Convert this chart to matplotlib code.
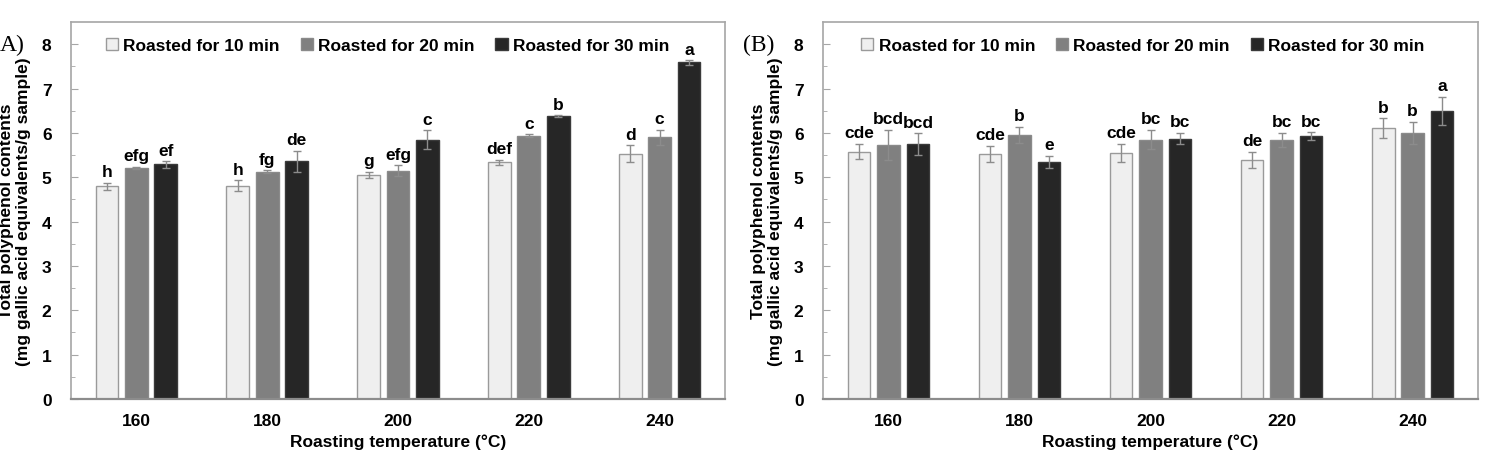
import matplotlib
matplotlib.use('Agg')
import matplotlib.pyplot as plt
import numpy as np

temps = ['160', '180', '200', '220', '240']
series = ['Roasted for 10 min', 'Roasted for 20 min', 'Roasted for 30 min']

# panel A
a_10 = [4.80, 4.81, 5.06, 5.34, 5.53]
a_20 = [5.21, 5.13, 5.15, 5.94, 5.90]
a_30 = [5.29, 5.36, 5.85, 6.38, 7.59]
a_10_err = [0.08, 0.12, 0.07, 0.06, 0.19]
a_20_err = [0.03, 0.03, 0.12, 0.03, 0.17]
a_30_err = [0.07, 0.24, 0.21, 0.02, 0.05]
a_10_let = ['h', 'h', 'g', 'def', 'd']
a_20_let = ['efg', 'fg', 'efg', 'c', 'c']
a_30_let = ['ef', 'de', 'c', 'b', 'a']

# panel B
b_10 = [5.58, 5.53, 5.55, 5.39, 6.11]
b_20 = [5.73, 5.96, 5.85, 5.84, 6.00]
b_30 = [5.75, 5.34, 5.87, 5.93, 6.50]
b_10_err = [0.17, 0.18, 0.20, 0.18, 0.22]
b_20_err = [0.34, 0.18, 0.22, 0.16, 0.25]
b_30_err = [0.24, 0.14, 0.13, 0.08, 0.32]
b_10_let = ['cde', 'cde', 'cde', 'de', 'b']
b_20_let = ['bcd', 'b', 'bc', 'bc', 'b']
b_30_let = ['bcd', 'e', 'bc', 'bc', 'a']

fam = ['Liberation Sans Narrow', 'Liberation Sans', 'DejaVu Sans']
plt.rcParams['font.family'] = fam
plt.rcParams['font.weight'] = 'bold'

colors = ['#efefef', '#808080', '#262626']
edges = ['#9a9a9a', '#8a8a8a', '#3a3a3a']
spine_c = '#a6a6a6'

fig = plt.figure(figsize=(14.85, 4.52), dpi=100)


def panel(rect, vals, errs, lets, tag, tag_x, leg_x):
    ax = fig.add_axes(rect)
    x = np.arange(len(temps))
    w = 0.175
    offs = [-0.225, 0.0, 0.225]
    for i in range(3):
        ax.bar(x + offs[i], vals[i], w, color=colors[i], edgecolor=edges[i],
               linewidth=1.0, label=series[i], zorder=2)
        ax.errorbar(x + offs[i], vals[i], yerr=errs[i], fmt='none',
                    ecolor='#8c8c8c', elinewidth=1.0, capsize=3, capthick=1.0, zorder=3)
        for xi, v, e, t in zip(x + offs[i], vals[i], errs[i], lets[i]):
            ax.text(xi, v + e + 0.08, t, ha='center', va='bottom',
                    fontsize=12.5, fontweight='bold')
    ax.set_xlim(-0.5, 4.5)
    ax.set_ylim(0, 8.5)
    ax.set_yticks(range(0, 9))
    ax.set_yticks(np.arange(0.5, 8.5, 1.0), minor=True)
    ax.set_xticks(x)
    ax.set_xticklabels(temps)
    ax.tick_params(axis='y', which='major', direction='in', length=5, color=spine_c,
                   labelsize=12.5, pad=14)
    ax.tick_params(axis='y', which='minor', direction='in', length=3, color=spine_c)
    ax.tick_params(axis='x', length=0, labelsize=12.5, pad=10)
    for s in ax.spines.values():
        s.set_color(spine_c)
        s.set_linewidth(1.2)
    ax.spines['bottom'].set_color('#8c8c8c')
    ax.spines['bottom'].set_linewidth(1.6)
    for lab in ax.get_xticklabels() + ax.get_yticklabels():
        lab.set_fontweight('bold')
    ax.set_xlabel('Roasting temperature (°C)', fontsize=12.5, fontweight='bold', labelpad=4)
    ax.set_ylabel('Total polyphenol contents\n(mg gallic acid equivalents/g sample)',
                  fontsize=12.5, fontweight='bold', labelpad=8, linespacing=1.1)
    leg = ax.legend(loc='upper left', bbox_to_anchor=(leg_x, 0.99), ncol=3, frameon=False,
                    fontsize=12.5, handlelength=0.7, handleheight=0.7, handletextpad=0.3,
                    columnspacing=1.2, borderaxespad=0.3)
    for t in leg.get_texts():
        t.set_fontweight('bold')
    fig.text(tag_x, 0.90, tag, family='Liberation Serif', fontsize=17,
             fontweight='normal', ha='left', va='center')
    return ax


ax1 = panel([0.0478, 0.115, 0.4404, 0.834], [a_10, a_20, a_30],
            [a_10_err, a_20_err, a_30_err], [a_10_let, a_20_let, a_30_let],
            'A)', 0.0, 0.035)
ax2 = panel([0.5542, 0.115, 0.4411, 0.834], [b_10, b_20, b_30],
            [b_10_err, b_20_err, b_30_err], [b_10_let, b_20_let, b_30_let],
            '(B)', 0.5, 0.040)

fig.savefig('out.png', dpi=100)
